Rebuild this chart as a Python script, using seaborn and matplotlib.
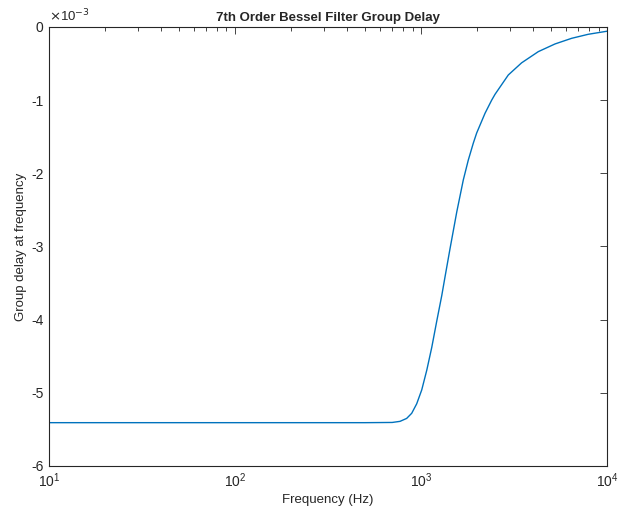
import numpy as np
import pandas as pd
import seaborn as sns
import matplotlib
matplotlib.use("Agg")
from matplotlib import pyplot as plt
from matplotlib.ticker import LogLocator, FixedLocator

# values (frequency in Hz, group delay in units of 1e-3)
freq_hz = [10, 100, 500, 700, 771, 837, 891, 948, 1009, 1074, 1142, 1215,
           1293, 1345, 1432, 1556, 1688, 1795, 1909, 1991, 2208, 2398, 2500,
           2946, 3474, 4271, 5252, 6452, 7925, 10000]
delay_e3 = [-5.408, -5.408, -5.408, -5.405, -5.39, -5.35, -5.28, -5.15,
            -4.96, -4.69, -4.38, -4.02, -3.67, -3.42, -3.03, -2.53, -2.09,
            -1.82, -1.59, -1.45, -1.18, -1.00, -0.92, -0.656, -0.49, -0.337,
            -0.232, -0.155, -0.100, -0.058]
y_ticks = [-6, -5, -4, -3, -2, -1, 0]

df = pd.DataFrame({"freq": freq_hz, "delay": delay_e3})

sns.set_style("white")
plt.rcParams['font.family'] = ['Liberation Sans', 'DejaVu Sans']

fig = plt.figure(figsize=(6.21, 5.08), dpi=100)
ax = fig.add_axes([0.0789, 0.0827, 0.8986, 0.8642])

sns.lineplot(data=df, x="freq", y="delay", ax=ax, color="#0072BD", linewidth=1.0)

ax.set_xscale("log")
ax.set_xlim(10, 1e4)
ax.set_ylim(-6, 0)
ax.yaxis.set_major_locator(FixedLocator(y_ticks))
ax.set_yticklabels([str(t) for t in y_ticks])
ax.xaxis.set_major_locator(LogLocator(base=10, numticks=10))
ax.xaxis.set_minor_locator(LogLocator(base=10, subs=np.arange(2, 10), numticks=10))

for s in ax.spines.values():
    s.set_color("#262626")
    s.set_linewidth(0.8)
ax.tick_params(which="both", direction="in", top=True, right=True,
               colors="#262626", labelsize=10, width=0.6)
ax.tick_params(which="major", length=5, pad=4)
ax.tick_params(which="minor", length=3)

ax.set_title("7th Order Bessel Filter Group Delay", fontsize=9.5,
             fontweight="bold", pad=4)
ax.set_xlabel("Frequency (Hz)", fontsize=9.5, labelpad=3)
ax.set_ylabel("Group delay at frequency", fontsize=9.5, labelpad=3)
ax.text(0.0, 1.005, r"$\times$10$^{-3}$", transform=ax.transAxes,
        fontsize=9.5, ha="left", va="bottom", color="#262626")

fig.savefig("out.png", dpi=100)
